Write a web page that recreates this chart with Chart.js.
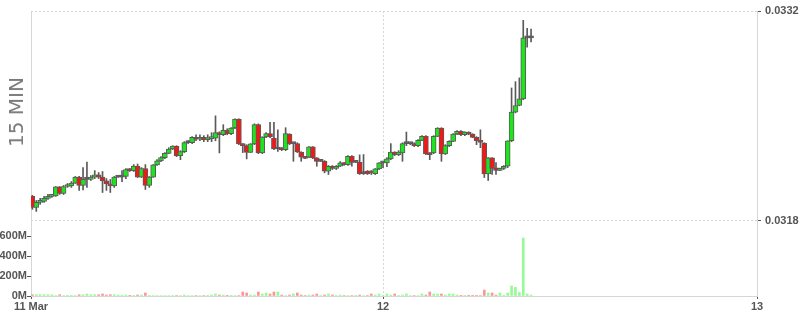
<!DOCTYPE html>
<html><head><meta charset="utf-8">
<script src="https://cdn.jsdelivr.net/npm/chart.js@4.4.1/dist/chart.umd.min.js"></script>
<style>
html,body{margin:0;padding:0;background:#fff;}
#wrap{position:relative;width:800px;height:315px;overflow:hidden;}
#title{position:absolute;left:16px;top:112px;transform:translate(-50%,-50%) rotate(-90deg);font:20px "DejaVu Sans",sans-serif;color:#7a7a7a;white-space:nowrap;}
</style></head><body>
<div id="wrap"><canvas id="c" width="800" height="315"></canvas><div id="title">15 MIN</div></div>
<script>
// 15-minute candles, first one 11 Mar 01:30 (hours from 11 Mar 00:00)
const startHour = 1.5;
const stepHours = 0.25;

const opens = [0.031964,0.031891,0.031924,0.031931,0.031951,0.031964,0.031967,0.032027,0.031984,0.032030,
0.032034,0.032053,0.032093,0.032037,0.032077,0.032077,0.032093,0.032107,0.032093,0.032067,
0.032047,0.032034,0.032093,0.032093,0.032097,0.032143,0.032136,0.032166,0.032093,0.032150,
0.032037,0.032092,0.032174,0.032201,0.032223,0.032251,0.032280,0.032300,0.032236,0.032262,
0.032322,0.032322,0.032357,0.032345,0.032357,0.032342,0.032349,0.032352,0.032389,0.032375,
0.032404,0.032382,0.032420,0.032479,0.032314,0.032302,0.032258,0.032314,0.032442,0.032254,
0.032360,0.032382,0.032353,0.032280,0.032280,0.032276,0.032380,0.032316,0.032316,0.032260,
0.032225,0.032225,0.032294,0.032221,0.032198,0.032198,0.032132,0.032165,0.032150,0.032165,
0.032187,0.032176,0.032231,0.032191,0.032191,0.032116,0.032132,0.032132,0.032116,0.032148,
0.032187,0.032187,0.032214,0.032260,0.032243,0.032254,0.032316,0.032316,0.032316,0.032302,
0.032337,0.032364,0.032247,0.032254,0.032364,0.032420,0.032247,0.032302,0.032331,0.032380,
0.032397,0.032375,0.032393,0.032380,0.032357,0.032335,0.032320,0.032114,0.032221,0.032154,
0.032138,0.032150,0.032165,0.032335,0.032526,0.032570,0.032614,0.033021,0.033021];

const closes = [0.031891,0.031924,0.031931,0.031951,0.031964,0.031967,0.032027,0.031984,0.032030,0.032034,
0.032053,0.032093,0.032037,0.032077,0.032077,0.032093,0.032107,0.032093,0.032067,0.032047,
0.032034,0.032093,0.032093,0.032093,0.032143,0.032136,0.032166,0.032093,0.032150,0.032037,
0.032092,0.032174,0.032201,0.032223,0.032251,0.032280,0.032300,0.032236,0.032262,0.032322,
0.032322,0.032357,0.032345,0.032357,0.032342,0.032349,0.032352,0.032389,0.032375,0.032404,
0.032382,0.032420,0.032479,0.032314,0.032302,0.032258,0.032314,0.032442,0.032254,0.032360,
0.032382,0.032360,0.032280,0.032280,0.032276,0.032382,0.032316,0.032316,0.032260,0.032225,
0.032218,0.032294,0.032221,0.032198,0.032198,0.032132,0.032165,0.032150,0.032165,0.032187,
0.032176,0.032231,0.032191,0.032191,0.032116,0.032116,0.032116,0.032121,0.032148,0.032187,
0.032187,0.032214,0.032260,0.032243,0.032260,0.032316,0.032316,0.032316,0.032302,0.032337,
0.032364,0.032247,0.032243,0.032364,0.032420,0.032247,0.032302,0.032331,0.032380,0.032397,
0.032375,0.032393,0.032380,0.032357,0.032335,0.032324,0.032114,0.032221,0.032150,0.032138,
0.032150,0.032165,0.032335,0.032526,0.032570,0.032614,0.033021,0.033021,0.033021];

const highs = [0.031971,0.031937,0.031951,0.031964,0.031977,0.031977,0.032030,0.032030,0.032037,0.032050,
0.032063,0.032097,0.032097,0.032156,0.032193,0.032103,0.032136,0.032123,0.032130,0.032083,
0.032077,0.032097,0.032103,0.032136,0.032150,0.032150,0.032176,0.032180,0.032156,0.032176,
0.032097,0.032176,0.032209,0.032229,0.032256,0.032289,0.032302,0.032302,0.032269,0.032329,
0.032335,0.032362,0.032375,0.032375,0.032369,0.032375,0.032389,0.032501,0.032395,0.032442,
0.032415,0.032422,0.032481,0.032481,0.032316,0.032309,0.032316,0.032448,0.032448,0.032362,
0.032389,0.032457,0.032457,0.032408,0.032289,0.032422,0.032382,0.032322,0.032322,0.032262,
0.032229,0.032296,0.032296,0.032223,0.032203,0.032203,0.032170,0.032170,0.032170,0.032196,
0.032189,0.032236,0.032236,0.032196,0.032241,0.032243,0.032136,0.032136,0.032150,0.032189,
0.032196,0.032223,0.032316,0.032262,0.032269,0.032322,0.032393,0.032322,0.032322,0.032342,
0.032369,0.032369,0.032256,0.032369,0.032422,0.032422,0.032309,0.032335,0.032382,0.032402,
0.032402,0.032395,0.032395,0.032382,0.032362,0.032408,0.032322,0.032223,0.032223,0.032189,
0.032153,0.032170,0.032335,0.032687,0.032729,0.032754,0.033138,0.033085,0.033079];

const lows = [0.031878,0.031864,0.031911,0.031924,0.031944,0.031957,0.031964,0.031977,0.031977,0.032024,
0.032024,0.032050,0.032004,0.032007,0.032024,0.032070,0.032083,0.032083,0.031990,0.032004,
0.031990,0.032024,0.032090,0.032063,0.032083,0.032130,0.032130,0.032090,0.032090,0.032010,
0.032024,0.032090,0.032170,0.032196,0.032216,0.032249,0.032276,0.032229,0.032209,0.032256,
0.032316,0.032316,0.032335,0.032335,0.032329,0.032329,0.032329,0.032335,0.032254,0.032369,
0.032375,0.032375,0.032415,0.032309,0.032256,0.032214,0.032256,0.032309,0.032249,0.032249,
0.032355,0.032355,0.032276,0.032264,0.032269,0.032269,0.032309,0.032198,0.032256,0.032198,
0.032216,0.032223,0.032216,0.032165,0.032196,0.032121,0.032110,0.032143,0.032143,0.032163,
0.032170,0.032170,0.032165,0.032189,0.032110,0.032110,0.032110,0.032110,0.032110,0.032143,
0.032156,0.032163,0.032209,0.032236,0.032236,0.032198,0.032302,0.032309,0.032296,0.032296,
0.032335,0.032243,0.032209,0.032249,0.032362,0.032198,0.032243,0.032296,0.032329,0.032375,
0.032369,0.032369,0.032375,0.032355,0.032309,0.032289,0.032090,0.032070,0.032110,0.032110,
0.032136,0.032143,0.032156,0.032329,0.032521,0.032568,0.032608,0.032959,0.032994];

// volume in millions
const volumesM = [13,13,13,13,13,13,5,13,5,3,
3,5,13,13,20,13,13,13,20,10,
13,13,10,7,10,7,7,10,10,30,
7,5,5,5,5,5,5,5,5,10,
5,5,5,5,5,3,10,20,10,10,
3,3,5,5,40,30,10,10,40,20,
30,20,40,40,10,5,10,20,30,10,
5,10,10,20,5,10,20,10,5,10,
5,5,5,3,10,5,5,20,10,20,
5,20,10,20,5,10,20,5,5,5,
20,10,40,20,20,20,10,20,20,10,
3,3,3,3,3,5,60,30,30,10,
30,3,30,100,87,35,580,20,10];

const dayTicks = [1.41, 24, 48];
const dayTickLabels = ['11 Mar', '12', '13'];
const priceTicks = [0.0318, 0.0332];
const volumeTicks = [0, 200, 400, 600];

const UP = '#1ee41e', DOWN = '#ee1a1a', EDGE = '#5a5a5a';
const VUP = 'rgb(150,250,150)', VDOWN = 'rgb(252,150,150)';
const GRID = '#d6d6d6';

const times = opens.map((_, i) => startHour + i * stepHours);

Chart.defaults.font.family = "'Liberation Sans', Arial, sans-serif";
Chart.defaults.font.size = 11;
Chart.defaults.font.weight = 'bold';
Chart.defaults.color = '#555';

const bodyData = times.map((t, i) => ({x: t, y: [Math.min(opens[i], closes[i]), Math.max(opens[i], closes[i])]}));
const bodyColors = opens.map((o, i) => closes[i] > o ? UP : (closes[i] < o ? DOWN : EDGE));
const wickData = times.map((t, i) => ({x: t, y: [lows[i], highs[i]]}));
const volData = times.map((t, i) => ({x: t, y: volumesM[i]}));
const volColors = opens.map((o, i) => closes[i] >= o ? VUP : VDOWN);

new Chart(document.getElementById('c'), {
  type: 'bar',
  data: {
    datasets: [
      {data: bodyData, yAxisID: 'y', backgroundColor: bodyColors, borderColor: EDGE, borderWidth: 1,
       borderSkipped: false, barThickness: 5, minBarLength: 2, grouped: false, order: 0},
      {data: wickData, yAxisID: 'y', backgroundColor: EDGE, borderWidth: 0, barThickness: 1, grouped: false, order: 1},
      {data: volData, yAxisID: 'yv', backgroundColor: volColors, borderWidth: 0, barThickness: 2, grouped: false, order: 2}
    ]
  },
  options: {
    responsive: false,
    animation: false,
    devicePixelRatio: 1,
    layout: {padding: {top: 11, left: 0, right: 0, bottom: 0}},
    plugins: {legend: {display: false}, tooltip: {enabled: false}},
    scales: {
      x: {
        type: 'linear', min: 1.41, max: 48, offset: false,
        grid: {offset: false, color: GRID, borderDash: [2, 2], tickColor: '#555', tickLength: 3, tickBorderDash: []},
        border: {display: true, color: GRID, dash: [2, 2]},
        afterBuildTicks: s => { s.ticks = dayTicks.map(v => ({value: v})); },
        ticks: {autoSkip: false, maxRotation: 0, padding: 1,
          callback: v => { const k = dayTicks.indexOf(v); return k >= 0 ? dayTickLabels[k] : ''; }},
        afterFit: s => { s.height = 19; }
      },
      y: {
        type: 'linear', position: 'right', min: 0.0313, max: 0.0332,
        grid: {color: GRID, borderDash: [2, 2], tickColor: '#555', tickLength: 4, tickBorderDash: []},
        border: {display: true, color: GRID, dash: [2, 2]},
        afterBuildTicks: s => { s.ticks = priceTicks.map(v => ({value: v})); },
        ticks: {padding: 4, callback: v => v.toFixed(4)},
        afterFit: s => { s.width = 43; }
      },
      yv: {
        type: 'linear', position: 'left', min: 0, max: 2850,
        grid: {drawOnChartArea: false, tickColor: '#555', tickLength: 4, tickBorderDash: []},
        border: {display: true, color: GRID, dash: [2, 2]},
        afterBuildTicks: s => { s.ticks = volumeTicks.map(v => ({value: v})); },
        ticks: {padding: 0, callback: v => v + 'M'},
        afterFit: s => { s.width = 31; }
      }
    }
  }
});
</script>
</body></html>
